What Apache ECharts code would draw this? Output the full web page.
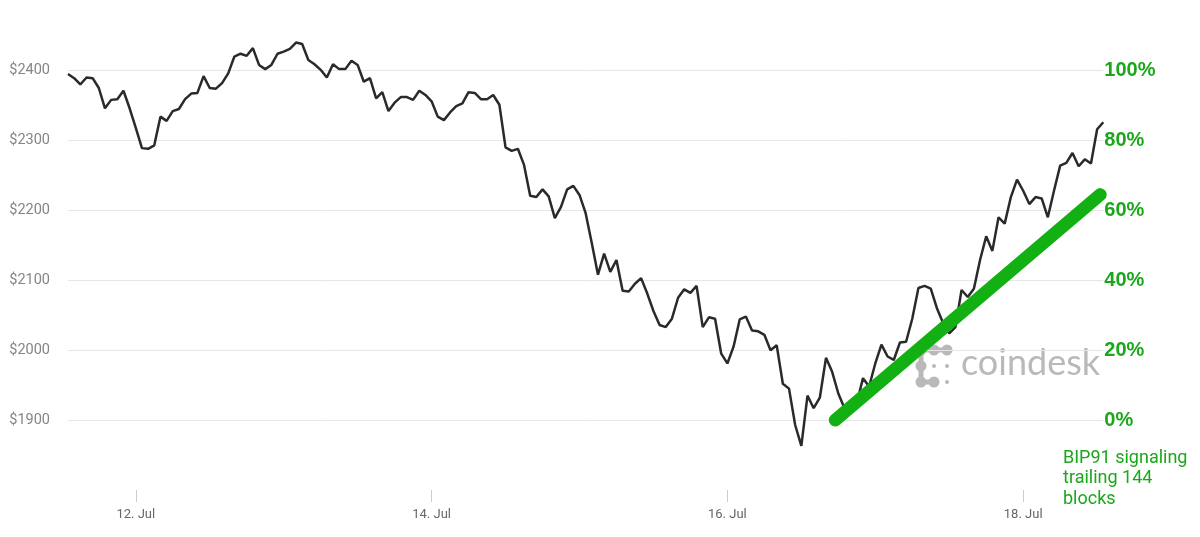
<!DOCTYPE html>
<html>
<head>
<meta charset="utf-8">
<script src="https://cdn.jsdelivr.net/npm/echarts@6/dist/echarts.min.js"></script>
<style>
html,body{margin:0;padding:0;background:#fff;}
#chart{width:1200px;height:537px;}
</style>
</head>
<body>
<div id="chart"></div>
<script>
// Hourly BTC price (USD), first point = 11 Jul 13:00 (hour -11 relative to 12 Jul 00:00)
const startHour = -11;
const prices = [
  2395,2389,2380,2390,2389,2375,2346,2358,2359,2371,2346,
  2318,2289,2288,2293,2334,2328,2342,2345,2359,2367,2368,2392,2375,2374,2382,2396,2420,2424,2421,2432,2408,2402,2408,2424,
  2427,2431,2440,2438,2415,2409,2401,2390,2409,2402,2402,2414,2408,2384,2389,2360,2369,2342,2354,2362,2362,2358,2371,2365,
  2356,2334,2329,2340,2349,2353,2369,2368,2359,2359,2365,2351,2290,2285,2288,2265,2221,2219,2230,2220,2189,2205,2230,2235,
  2222,2196,2153,2108,2138,2112,2129,2085,2084,2095,2103,2081,2056,2036,2033,2045,2075,2087,2082,2092,2033,2047,2045,1995,
  1981,2005,2044,2048,2028,2027,2022,2000,2007,1952,1945,1893,1863,1935,1917,1932,1989,1969,1938,1917,1911,1924,1960,1948,
  1981,2008,1991,1986,2011,2012,2045,2089,2092,2088,2060,2039,2024,2033,2086,2076,2088,2129,2163,2142,2190,2181,2219,2244,
  2228,2209,2219,2217,2190,2228,2264,2268,2282,2263,2273,2267,2316,2326
];
// BIP91 signalling share (trailing 144 blocks), in percent
const bipHours = [113.5, 156.5];
const bipPct = [0, 64.5];
// x-axis ticks (hours since 12 Jul 00:00) and labels
const xTickHours = [0, 48, 96, 144];
const xTickLabels = ['12. Jul', '14. Jul', '16. Jul', '18. Jul'];

const priceData = prices.map((p, i) => [startHour + i, p]);
const bipData = bipHours.map((h, i) => [h, bipPct[i]]);

const chart = echarts.init(document.getElementById('chart'), null, {renderer: 'canvas'});
const green = '#1aa81a';
const logoGray = '#b9b9b9';
const dotsBig = [[921,350],[934,350],[947,350],[921,366],[921,382],[934,382]];
const dotsSmall = [[934,366],[947,366],[947,382]];
const logo = [];
[[[921,350],[947,350]],[[921,350],[921,382]],[[921,382],[934,382]]].forEach(s => {
  logo.push({type:'line', shape:{x1:s[0][0],y1:s[0][1],x2:s[1][0],y2:s[1][1]}, style:{stroke:logoGray, lineWidth:5}, z:0});
});
dotsBig.forEach(d => logo.push({type:'circle', shape:{cx:d[0], cy:d[1], r:5.5}, style:{fill:logoGray}, z:0}));
dotsSmall.forEach(d => logo.push({type:'circle', shape:{cx:d[0], cy:d[1], r:2}, style:{fill:logoGray}, z:0}));

chart.setOption({
  animation: false,
  backgroundColor: '#ffffff',
  grid: {left: 68, right: 96.7, top: 0.6, bottom: 47, containLabel: false},
  xAxis: {
    type: 'value', min: -11, max: 157,
    axisLine: {show: false, onZero: false},
    axisTick: {show: true, customValues: xTickHours, length: 12, lineStyle: {color: '#cccccc'}},
    axisLabel: {
      customValues: xTickHours, margin: 18,
      color: '#666666', fontSize: 13, fontFamily: 'Roboto, sans-serif',
      formatter: v => xTickLabels[xTickHours.indexOf(v)] || ''
    },
    splitLine: {show: false}
  },
  yAxis: [
    {
      type: 'value', min: 1800, max: 2500, interval: 100, position: 'left',
      axisLine: {show: false}, axisTick: {show: false},
      axisLabel: {
        showMinLabel: false, showMaxLabel: false, margin: 18,
        color: '#858585', fontSize: 14.5, fontFamily: 'Roboto, sans-serif',
        verticalAlign: 'middle', padding: [0, 0, 18, 0],
        formatter: v => '$' + v
      },
      splitLine: {show: true, showMinLine: false, showMaxLine: false, lineStyle: {color: '#e6e6e6', width: 1}}
    },
    {
      type: 'value', min: -20, max: 120, interval: 20, position: 'right',
      axisLine: {show: false}, axisTick: {show: false},
      axisLabel: {
        showMinLabel: false, showMaxLabel: false, margin: 1,
        color: green, fontSize: 20, fontWeight: 'bold', fontFamily: 'Liberation Sans, Arial, sans-serif',
        formatter: v => v + '%'
      },
      splitLine: {show: false}
    }
  ],
  graphic: logo.concat([
    {type: 'text', left: 961, top: 345, z: 0,
     style: {text: 'coindesk', fill: logoGray, font: '36px Lato, sans-serif'}},
    {type: 'text', left: 1063, top: 448, z: 5,
     style: {text: 'BIP91 signaling\ntrailing 144\nblocks', fill: green, font: '18px Roboto, sans-serif', lineHeight: 20.5}}
  ]),
  series: [
    {
      name: 'Price', type: 'line', yAxisIndex: 0, data: priceData,
      symbol: 'none', smooth: false, z: 3,
      lineStyle: {color: '#2a2a2a', width: 2.5}
    },
    {
      name: 'BIP91', type: 'line', yAxisIndex: 1, data: bipData,
      symbol: 'none', z: 4,
      lineStyle: {color: '#13b013', width: 13, cap: 'round'}
    }
  ]
});
</script>
</body>
</html>
